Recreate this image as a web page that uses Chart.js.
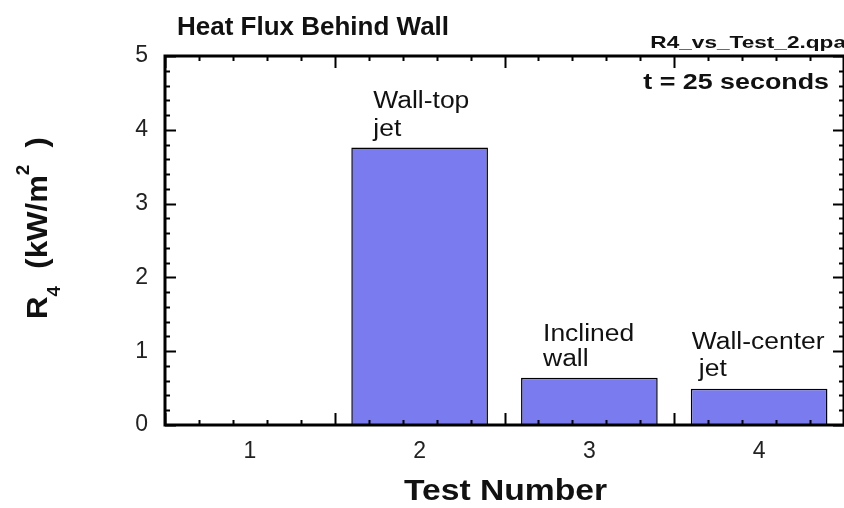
<!DOCTYPE html>
<html><head><meta charset="utf-8">
<script src="https://cdn.jsdelivr.net/npm/chart.js@4"></script>
<style>html,body{margin:0;padding:0;background:#fff}</style>
</head><body>
<canvas id="c" width="844" height="508" style="width:844px;height:508px;display:block"></canvas>
<script>
// ---- data ----
const categories = ['1', '2', '3', '4'];
const fluxValues = [0, 3.76, 0.64, 0.49];
const yTickValues = [0, 1, 2, 3, 4, 5];
const barNotes = [[], ['Wall-top', 'jet'], ['Inclined', 'wall'], ['Wall-center', 'jet']];
const titleText = 'Heat Flux Behind Wall';
const fileText = 'R4_vs_Test_2.qpa';
const timeText = 't = 25 seconds';
const xTitleText = 'Test Number';

// ---- style / layout ----
const FONT = '"Liberation Sans", Arial, Helvetica, sans-serif';
const noteLayout = [null,
  {dx: [22, 22], dy: [-40, -12]},
  {dx: [22, 22], dy: [-37, -12]},
  {dx: [1, 8], dy: [-40, -13]}];

function drawText(ctx, s, font, x, y, sx, align) {
  ctx.save();
  ctx.font = font;
  ctx.fillStyle = '#111';
  ctx.textBaseline = 'alphabetic';
  ctx.textAlign = align || 'left';
  ctx.translate(x, y);
  ctx.scale(sx, 1);
  ctx.fillText(s, 0, 0);
  ctx.restore();
}

const deco = {
  id: 'deco',
  beforeDraw(c) {
    const ctx = c.ctx;
    ctx.save(); ctx.fillStyle = '#fff'; ctx.fillRect(0, 0, c.width, c.height); ctx.restore();
  },
  afterDraw(c) {
    const ctx = c.ctx, a = c.chartArea, xs = c.scales.x, ys = c.scales.y;
    ctx.save();
    ctx.strokeStyle = '#000';
    ctx.lineWidth = 2;
    const n = categories.length;
    for (let k = 0; k <= n * 5; k++) {
      const v = -0.5 + k * 0.2;
      const px = Math.round(xs.getPixelForValue(v)) + 0.5;
      const len = (k % 5 === 0) ? 12 : 5;
      ctx.beginPath();
      ctx.moveTo(px, a.bottom); ctx.lineTo(px, a.bottom - len);
      ctx.moveTo(px, a.top); ctx.lineTo(px, a.top + len);
      ctx.stroke();
    }
    const ymax = yTickValues[yTickValues.length - 1];
    for (let k = 0; k <= ymax * 5; k++) {
      const v = k * 0.2;
      const py = Math.round(ys.getPixelForValue(v)) + 0.5;
      const len = (k % 5 === 0) ? 11 : 5;
      ctx.beginPath();
      ctx.moveTo(a.left, py); ctx.lineTo(a.left + len, py);
      ctx.moveTo(a.right, py); ctx.lineTo(a.right - len, py);
      ctx.stroke();
    }
    ctx.lineWidth = 3;
    ctx.strokeRect(a.left, a.top, a.right - a.left, a.bottom - a.top);
    ctx.restore();

    const meta = c.getDatasetMeta(0);
    barNotes.forEach((lines, i) => {
      if (!lines.length) return;
      const bar = meta.data[i];
      const left = bar.x - bar.width / 2;
      const L = noteLayout[i];
      lines.forEach((t, j) => {
        drawText(ctx, t, '23px ' + FONT, left + L.dx[j], bar.y + L.dy[j], 1.15, 'left');
      });
    });

    drawText(ctx, titleText, 'bold 26px ' + FONT, 177, 35, 1, 'left');
    drawText(ctx, fileText, 'bold 17px ' + FONT, 846, 48, 1.33, 'right');
    drawText(ctx, timeText, 'bold 22px ' + FONT, a.right - 15, a.top + 33, 1.22, 'right');
    drawText(ctx, xTitleText, 'bold 29px ' + FONT, (a.left + a.right) / 2 + 1, 500, 1.16, 'center');

    ctx.save();
    ctx.fillStyle = '#111';
    ctx.textBaseline = 'alphabetic';
    ctx.textAlign = 'left';
    const big = 'bold 30px ' + FONT, small = 'bold 18px ' + FONT;
    const pieces = [
      {t: 'R', f: big, dy: 0},
      {t: '4', f: small, dy: 13},
      {t: '  (kW/m', f: big, dy: 0},
      {t: '2', f: small, dy: -18},
      {t: '  )', f: big, dy: 0}
    ];
    let total = 0;
    pieces.forEach(p => { ctx.font = p.f; p.w = ctx.measureText(p.t).width; total += p.w; });
    const targetLen = 182;
    ctx.translate(47, 319);
    ctx.rotate(-Math.PI / 2);
    ctx.scale(targetLen / total, 1);
    let x = 0;
    pieces.forEach(p => { ctx.font = p.f; ctx.fillText(p.t, x, p.dy); x += p.w; });
    ctx.restore();
  }
};

new Chart(document.getElementById('c'), {
  type: 'bar',
  data: {
    labels: categories,
    datasets: [{
      data: fluxValues,
      backgroundColor: 'rgb(123,123,240)',
      borderColor: '#000',
      borderWidth: 1.5,
      barPercentage: 0.805,
      categoryPercentage: 1.0
    }]
  },
  options: {
    responsive: false,
    animation: false,
    devicePixelRatio: 1,
    layout: {padding: {top: 56, right: 0, left: 0, bottom: 0}},
    plugins: {legend: {display: false}, tooltip: {enabled: false}, title: {display: false}},
    scales: {
      x: {
        grid: {display: false, drawTicks: false},
        border: {display: false},
        ticks: {color: '#222', font: {family: FONT, size: 23}, padding: 13},
        afterFit(s) { s.height = 83; }
      },
      y: {
        min: 0, max: 5,
        afterBuildTicks(s) { s.ticks = yTickValues.map(v => ({value: v})); },
        grid: {display: false, drawTicks: false},
        border: {display: false},
        ticks: {color: '#222', font: {family: FONT, size: 23}, padding: 17},
        afterFit(s) { s.width = 165; }
      }
    }
  },
  plugins: [deco]
});
</script>
</body></html>
